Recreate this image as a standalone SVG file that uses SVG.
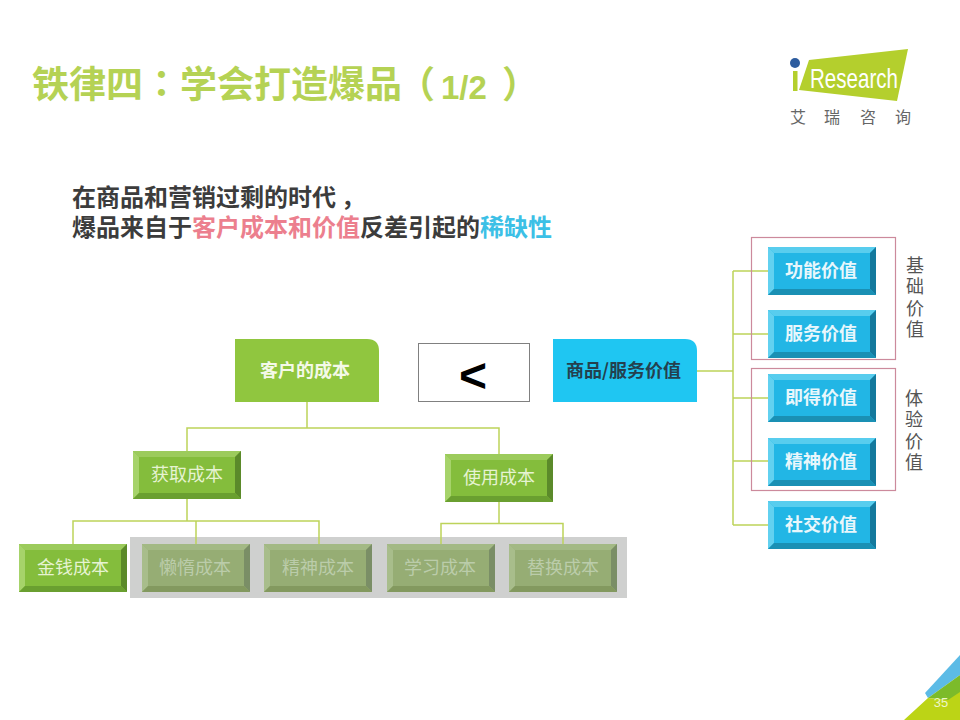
<svg xmlns="http://www.w3.org/2000/svg" width="960" height="720" viewBox="0 0 960 720">
<style>
text{font-family:"Noto Sans CJK SC","Liberation Sans",sans-serif}
.title{font-size:37px;font-weight:700;fill:#b5d254}
.sub{font-size:24px;font-weight:700;fill:#3c3c3c}
.lbl{font-size:18px;text-anchor:middle}
.g{fill:#e6f3d2}
.f{fill:#bbccaa}
.b{fill:#e8f7fc;font-weight:700}
.side{font-size:18px;fill:#555;writing-mode:vertical-rl;letter-spacing:3.5px}
.conn{fill:none;stroke:#bdd35a;stroke-width:1.5}
.frame{fill:none;stroke:#cc8a9c;stroke-width:1.2}
</style>
<defs>
<g id="bevel-g"><rect width="108" height="48" fill="#84bd3c"/><polygon points="0,0 108,0 102,6 6,6" fill="#9ccb5c"/><polygon points="0,0 6,6 6,42 0,48" fill="#a6d36a"/><polygon points="108,0 108,48 102,42 102,6" fill="#5b8a2a"/><polygon points="0,48 6,42 102,42 108,48" fill="#6a9f30"/></g>
<g id="bevel-f"><rect width="108" height="48" fill="#96ad74"/><polygon points="0,0 108,0 102,6 6,6" fill="#a3b985"/><polygon points="0,0 6,6 6,42 0,48" fill="#a8bd8b"/><polygon points="108,0 108,48 102,42 102,6" fill="#7a8e66"/><polygon points="0,48 6,42 102,42 108,48" fill="#83995f"/></g>
<g id="bevel-b"><rect width="108" height="48" fill="#22b6e5"/><polygon points="0,0 108,0 102,6 6,6" fill="#58cdee"/><polygon points="0,0 6,6 6,42 0,48" fill="#62d1f0"/><polygon points="108,0 108,48 102,42 102,6" fill="#14799d"/><polygon points="0,48 6,42 102,42 108,48" fill="#1a90b4"/></g>
</defs>
<rect width="960" height="720" fill="#fff"/>
<g id="title"><text class="title" x="32" y="98">铁律四<tspan style="font-family:'Noto Sans CJK TC',sans-serif">：</tspan>学会打造爆品</text><text class="title" x="398" y="98">（</text><text x="441" y="99" font-size="33" font-weight="700" fill="#b5d254" style="font-family:'Liberation Sans',sans-serif">1/2</text><text class="title" x="502" y="98">）</text></g>
<g id="logo"><polygon points="809,60 908,49 897,101 799,90" fill="#b4cf2d"/><circle cx="795" cy="63" r="5" fill="#2d5c9e"/><rect x="793" y="71" width="4.500" height="20" fill="#b4cf2d"/><text x="810" y="88" font-size="28" fill="#fff" textLength="88" lengthAdjust="spacingAndGlyphs" style="font-family:'Liberation Sans',sans-serif">Research</text><g font-size="16" fill="#666" text-anchor="middle"><text x="798" y="123">艾</text><text x="832" y="123">瑞</text><text x="868" y="123">咨</text><text x="903" y="123">询</text></g></g>
<g id="subtitle"><text class="sub" x="72" y="206">在商品和营销过剩的时代<tspan dx="5">，</tspan></text><text class="sub" x="72" y="236">爆品来自于<tspan fill="#ec7f8e">客户成本和价值</tspan>反差引起的<tspan fill="#3cc0e6">稀缺性</tspan></text></g>
<rect id="grey-panel" x="130" y="537" width="497" height="61" fill="#cfd0cf"/>
<g id="connectors">
<path class="conn" d="M307,402V428H499V454M307,428H187V451"/>
<path class="conn" d="M187,498V521M73,544V521H319V544M196,521V544"/>
<path class="conn" d="M499,502V523.500M441,544V523.500H563V544"/>
<path class="conn" d="M697,371H733M733,271V525M733,271H768M733,334H768M733,398H768M733,461H768M733,525H768"/>
</g>
<g id="customer-cost"><path d="M235,339H367Q379,339 379,351V402H235Z" fill="#90c63f"/><text class="lbl" x="305" y="377" fill="#f4f9e8" font-weight="700">客户的成本</text></g>
<g id="less-than"><rect x="418.500" y="343.500" width="111" height="58" fill="#fff" stroke="#808080" stroke-width="1"/><text x="473" y="392" font-size="48" font-weight="700" fill="#000" text-anchor="middle" style="font-family:'Liberation Sans',sans-serif">&lt;</text></g>
<g id="product-value"><path d="M553,339H685Q697,339 697,351V402H553Z" fill="#1fc6f2"/><text class="lbl" x="623.500" y="377" fill="#24404e" font-weight="700">商品/服务价值</text></g>
<g id="acquire" transform="translate(133,451)"><use href="#bevel-g"/><text class="lbl g" x="54" y="30">获取成本</text></g>
<g id="use-cost" transform="translate(445,454)"><use href="#bevel-g"/><text class="lbl g" x="54" y="30">使用成本</text></g>
<g id="money" transform="translate(19,544)"><use href="#bevel-g"/><text class="lbl g" x="54" y="30">金钱成本</text></g>
<g id="lazy" transform="translate(142,544)"><use href="#bevel-f"/><text class="lbl f" x="53" y="30">懒惰成本</text></g>
<g id="spirit-cost" transform="translate(264,544)"><use href="#bevel-f"/><text class="lbl f" x="54" y="30">精神成本</text></g>
<g id="learn" transform="translate(387,544)"><use href="#bevel-f"/><text class="lbl f" x="53" y="30">学习成本</text></g>
<g id="replace" transform="translate(509,544)"><use href="#bevel-f"/><text class="lbl f" x="54" y="30">替换成本</text></g>
<g id="function" transform="translate(768,247)"><use href="#bevel-b"/><text class="lbl b" x="53" y="30">功能价值</text></g>
<g id="service" transform="translate(768,310)"><use href="#bevel-b"/><text class="lbl b" x="53" y="30">服务价值</text></g>
<g id="instant" transform="translate(768,374)"><use href="#bevel-b"/><text class="lbl b" x="53" y="30">即得价值</text></g>
<g id="spirit-value" transform="translate(768,438)"><use href="#bevel-b"/><text class="lbl b" x="53" y="30">精神价值</text></g>
<g id="social" transform="translate(768,501)"><use href="#bevel-b"/><text class="lbl b" x="53" y="30">社交价值</text></g>
<rect class="frame" x="751.500" y="237.500" width="144" height="122"/>
<rect class="frame" x="751.500" y="368.500" width="144" height="122"/>
<g id="basic-label"><text class="side" x="915" y="256">基础价值</text></g>
<g id="experience-label"><text class="side" x="914" y="389">体验价值</text></g>
<g id="corner"><polygon points="925,693 960,655 960,675 928,698" fill="#5cbbe6"/><polygon points="928,698 960,675 960,702 948,700" fill="#7cbb2a"/><polygon points="904,720 928,698 948,700 960,692 960,720" fill="#bcd416"/><text x="941" y="707" font-size="13" fill="#eef6c8" text-anchor="middle" style="font-family:'Liberation Sans',sans-serif">35</text></g>
</svg>
